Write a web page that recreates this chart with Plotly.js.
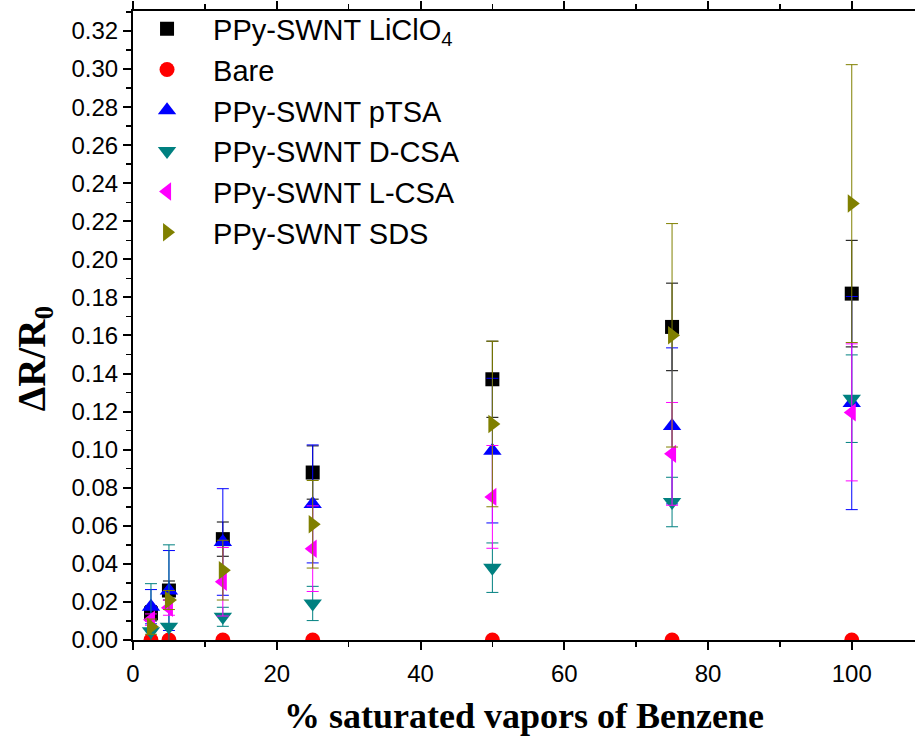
<!DOCTYPE html>
<html>
<head>
<meta charset="utf-8">
<script src="https://cdn.plot.ly/plotly-3.0.1.min.js"></script>
<style>html,body{margin:0;padding:0;background:#fff;}#chart{width:915px;height:742px;}</style>
</head>
<body>
<div id="chart"></div>
<script>
// Data
const xVals = [2.5, 5, 12.5, 25, 50, 75, 100];

const liclo4 = [0.014, 0.026, 0.053, 0.088, 0.137, 0.1645, 0.182];
const liclo4Err = [0.004, 0.005, 0.009, 0.014, 0.020, 0.023, 0.028];

const bare = [0, 0, 0, 0, 0, 0, 0];

const ptsa = [0.0175, 0.026, 0.0515, 0.0715, 0.0995, 0.1125, 0.1245];
const ptsaErr = [0.009, 0.021, 0.028, 0.031, 0.038, 0.041, 0.056];

const dcsa = [0.0046, 0.007, 0.0122, 0.0192, 0.038, 0.0725, 0.1268];
const dcsaErr = [0.025, 0.043, 0.005, 0.009, 0.013, 0.013, 0.023];

const lcsa = [0.0107, 0.017, 0.0306, 0.048, 0.0752, 0.0978, 0.1196];
const lcsaErr = [0.003, 0.004, 0.018, 0.0225, 0.027, 0.027, 0.036];

const sds = [0.007, 0.021, 0.0367, 0.0608, 0.1135, 0.1601, 0.2293];
const sdsErr = [0.004, 0.005, 0.0157, 0.023, 0.0435, 0.0587, 0.073];

const names = ['PPy-SWNT LiClO<sub>4</sub>', 'Bare', 'PPy-SWNT pTSA', 'PPy-SWNT D-CSA', 'PPy-SWNT L-CSA', 'PPy-SWNT SDS'];
const colors = ['#000000', '#ff0000', '#0000ff', '#008080', '#ff00ff', '#808000'];
const symbols = ['square', 'circle', 'triangle-up', 'triangle-down', 'triangle-left', 'triangle-right'];
const sizes = [14, 15, 16, 16, 16, 16];
const ys = [liclo4, bare, ptsa, dcsa, lcsa, sds];
const errs = [liclo4Err, null, ptsaErr, dcsaErr, lcsaErr, sdsErr];

const yTitle = 'ΔR/R<sub>0</sub>';
const xTitle = '% saturated vapors of Benzene';

const traces = ys.map((y, i) => ({
  type: 'scatter',
  mode: 'markers',
  x: xVals,
  y: y,
  name: names[i],
  legendgroup: 'g' + i,
  marker: {symbol: symbols[i], color: colors[i], size: sizes[i], line: {width: 0}},
  error_y: errs[i] ? {type: 'data', array: errs[i], visible: true, color: colors[i], thickness: 1, width: 6} : {visible: false}
}));

const layout = {
  width: 915,
  height: 742,
  margin: {l: 133, r: 0, t: 11, b: 102},
  paper_bgcolor: '#ffffff',
  plot_bgcolor: '#ffffff',
  showlegend: true,
  legend: {
    x: -0.0153, y: 1.012, xanchor: 'left', yanchor: 'top',
    bgcolor: 'rgba(0,0,0,0)',
    font: {family: 'Arial, Liberation Sans, sans-serif', size: 29, color: '#000'},
    traceorder: 'grouped',
    tracegroupgap: 0,
    itemwidth: 82
  },
  xaxis: {
    range: [0, 108.8],
    tick0: 0, dtick: 20,
    ticks: 'outside', ticklen: 8, tickwidth: 2, tickcolor: '#000',
    ticklabelstandoff: 3,
    showline: true, linewidth: 2, linecolor: '#000',
    mirror: 'ticks',
    showgrid: false, zeroline: false,
    minor: {dtick: 10, ticks: 'outside', ticklen: 5, tickwidth: 1.5, tickcolor: '#000', showgrid: false},
    tickfont: {family: 'Arial, Liberation Sans, sans-serif', size: 24, color: '#000'},
    title: {text: xTitle, font: {family: 'Times New Roman, Liberation Serif, serif', size: 36, color: '#000', weight: 700}, standoff: 17}
  },
  yaxis: {
    range: [0, 0.3305],
    tick0: 0, dtick: 0.02, tickformat: '.2f',
    ticks: 'outside', ticklen: 8, tickwidth: 2, tickcolor: '#000',
    showline: true, linewidth: 2, linecolor: '#000',
    mirror: false,
    showgrid: false, zeroline: false,
    minor: {dtick: 0.01, ticks: 'outside', ticklen: 5, tickwidth: 1.5, tickcolor: '#000', showgrid: false},
    tickfont: {family: 'Arial, Liberation Sans, sans-serif', size: 24, color: '#000'}
  },
  annotations: [{
    text: yTitle,
    xref: 'paper', yref: 'paper',
    x: -0.1266, y: 0.448,
    xanchor: 'center', yanchor: 'middle',
    textangle: -90,
    showarrow: false,
    font: {family: 'Times New Roman, Liberation Serif, serif', size: 39, color: '#000', weight: 700}
  }]
};

Plotly.newPlot('chart', traces, layout, {displayModeBar: false, staticPlot: true});
</script>
</body>
</html>
